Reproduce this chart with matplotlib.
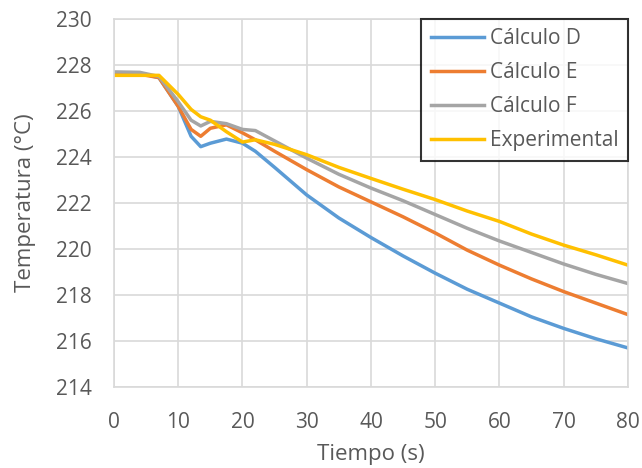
import numpy as np
import matplotlib.pyplot as plt

plt.rcParams['font.family'] = ['Open Sans', 'DejaVu Sans']

# Time (s)
tiempo = [0, 4, 7, 10, 12, 13.5, 15, 17.5, 20, 22, 25, 30, 35, 40, 45, 50, 55, 60, 65, 70, 75, 80]

# Temperatures (°C)
calculo_d = [227.65, 227.65, 227.45, 226.2, 224.9, 224.45, 224.6, 224.78, 224.6, 224.25, 223.55, 222.35,
             221.35, 220.5, 219.7, 218.95, 218.25, 217.65, 217.05, 216.55, 216.1, 215.7]
calculo_e = [227.6, 227.6, 227.45, 226.2, 225.2, 224.9, 225.25, 225.4, 225.05, 224.75, 224.25, 223.45,
             222.7, 222.05, 221.4, 220.7, 219.95, 219.3, 218.7, 218.15, 217.65, 217.15]
calculo_f = [227.7, 227.68, 227.5, 226.4, 225.6, 225.35, 225.55, 225.45, 225.2, 225.15, 224.7, 223.95,
             223.25, 222.65, 222.1, 221.5, 220.9, 220.35, 219.85, 219.35, 218.9, 218.5]
experimental = [227.55, 227.55, 227.55, 226.72, 226.07, 225.75, 225.6, 225.1, 224.65, 224.75, 224.55, 224.1,
                223.55, 223.07, 222.6, 222.15, 221.65, 221.2, 220.65, 220.17, 219.75, 219.3]

text_color = '#595959'
grid_color = '#d9d9d9'

fig = plt.figure(figsize=(6.42, 4.68), dpi=100)
ax = fig.add_axes([0.1776, 0.173, 0.8004, 0.7864])

ax.plot(tiempo, calculo_d, color='#5B9BD5', lw=2.5, label='Cálculo D')
ax.plot(tiempo, calculo_e, color='#ED7D31', lw=2.5, label='Cálculo E')
ax.plot(tiempo, calculo_f, color='#A5A5A5', lw=2.5, label='Cálculo F')
ax.plot(tiempo, experimental, color='#FFC000', lw=2.5, label='Experimental')

ax.set_xlim(0, 80)
ax.set_ylim(214, 230)
ax.set_xticks(np.arange(0, 81, 10))
ax.set_yticks(np.arange(214, 231, 2))
ax.grid(True, color=grid_color, lw=1.2)
ax.set_axisbelow(True)
for s in ax.spines.values():
    s.set_color(grid_color)
    s.set_linewidth(1.2)
ax.tick_params(length=0, labelsize=15, labelcolor=text_color)
ax.tick_params(axis='x', pad=18)
ax.tick_params(axis='y', pad=16)

ax.set_xlabel('Tiempo (s)', fontsize=16, color=text_color, labelpad=8)
ax.set_ylabel('Temperatura (°C)', fontsize=16, color=text_color, labelpad=14)

leg = ax.legend(loc='upper right', fontsize=15, frameon=True, fancybox=False,
                borderaxespad=0, handlelength=2.55, handletextpad=0.3,
                labelspacing=0.62, borderpad=0.45)
leg.get_frame().set_edgecolor('black')
leg.get_frame().set_linewidth(1.5)
for t in leg.get_texts():
    t.set_color(text_color)

fig.savefig('out.png', dpi=100)
